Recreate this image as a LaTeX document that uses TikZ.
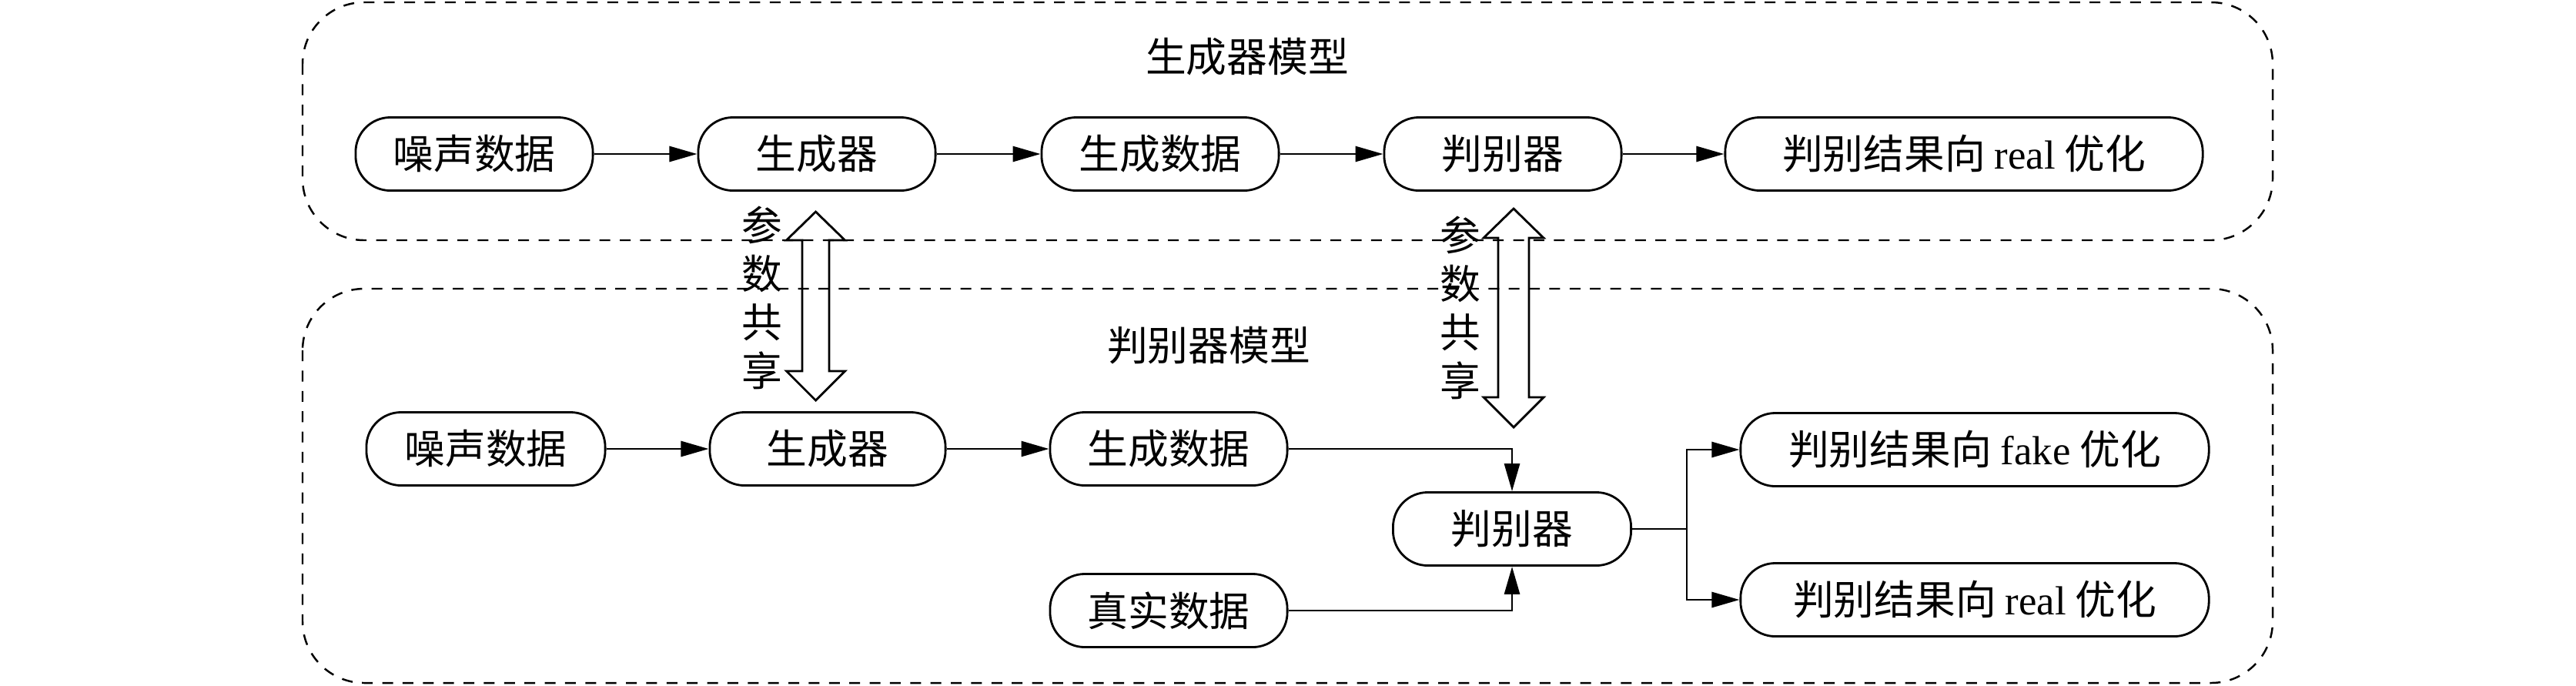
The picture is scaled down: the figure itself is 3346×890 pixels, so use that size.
\documentclass[tikz,border=0pt]{standalone}
\usepackage{fontspec}
\setmainfont{Liberation Serif}
\newfontfamily\cjk{Noto Sans CJK SC}
\usetikzlibrary{arrows.meta}
\begin{document}
\begin{tikzpicture}[x=0.01cm,y=-0.01cm,
  box/.style={draw, line width=0.8pt, rounded corners=0.45cm, minimum height=0.95cm,
    minimum width=3.08cm, inner sep=0pt, font=\cjk\fontsize{15}{18}\selectfont},
  wide/.style={box, minimum width=6.15cm},
  frame/.style={draw, line width=0.7pt, dash pattern=on 4pt off 3.5pt, rounded corners=0.8cm},
  conn/.style={line width=0.8pt, -{Triangle[length=0.36cm,width=0.2cm]}},
  plain/.style={line width=0.8pt},
  title/.style={font=\cjk\fontsize{15}{18}\selectfont, inner sep=0pt},
  vlabel/.style={font=\cjk\fontsize{15}{17.9}\selectfont, align=center, inner sep=0pt},
  hollow/.style={draw, line width=0.8pt, line join=miter}
]
\useasboundingbox (0,0) rectangle (3346,890);

% frames
\draw[frame] (393,3) rectangle (2952,312);
\draw[frame] (393,375) rectangle (2952,887);
\node[title] (t1) at (1620,74) {生成器模型};
\node[title] (t2) at (1570,449) {判别器模型};

% top row
\node[box] (n1) at (616,200) {噪声数据};
\node[box] (g1) at (1061,200) {生成器};
\node[box] (d1) at (1507,200) {生成数据};
\node[box] (j1) at (1952,200) {判别器};
\node[wide, minimum width=6.2cm] (r1) at (2551,200) {判别结果向 {\rmfamily real} 优化};
\draw[conn] (n1) -- (g1);
\draw[conn] (g1) -- (d1);
\draw[conn] (d1) -- (j1);
\draw[conn] (j1) -- (r1);

% bottom rows
\node[box, minimum width=3.1cm] (n2) at (631,583) {噪声数据};
\node[box, minimum width=3.06cm] (g2) at (1075,583) {生成器};
\node[box] (d2) at (1518,583) {生成数据};
\node[box] (rd) at (1518,793) {真实数据};
\node[box, minimum width=3.09cm] (j2) at (1964,687) {判别器};
\node[wide, minimum width=6.08cm] (f2) at (2565,584) {判别结果向 {\rmfamily fake} 优化};
\node[wide, minimum width=6.08cm] (r2) at (2565,779) {判别结果向 {\rmfamily real} 优化};
\draw[conn] (n2) -- (g2);
\draw[conn] (g2) -- (d2);
\draw[conn] (d2.east) -| (j2.north);
\draw[conn] (rd.east) -| (j2.south);
\coordinate (br) at (2191,687);
\draw[plain] (j2.east) -- (br);
\draw[conn] (br) |- (f2.west);
\draw[conn] (br) |- (r2.west);

% parameter sharing double arrows
\draw[hollow] (1059.5,275) -- (1097.5,312) -- (1077,312) -- (1077,482) -- (1097.5,482)
  -- (1059.5,520) -- (1021.5,482) -- (1042,482) -- (1042,312) -- (1021.5,312) -- cycle;
\draw[hollow] (1966,271) -- (2005,309) -- (1986,309) -- (1986,516) -- (2005,516)
  -- (1966,555) -- (1927,516) -- (1946,516) -- (1946,309) -- (1927,309) -- cycle;
\node[vlabel] (s1) at (990,387) {参\\数\\共\\享};
\node[vlabel] (s2) at (1897,400) {参\\数\\共\\享};
\end{tikzpicture}
\end{document}
